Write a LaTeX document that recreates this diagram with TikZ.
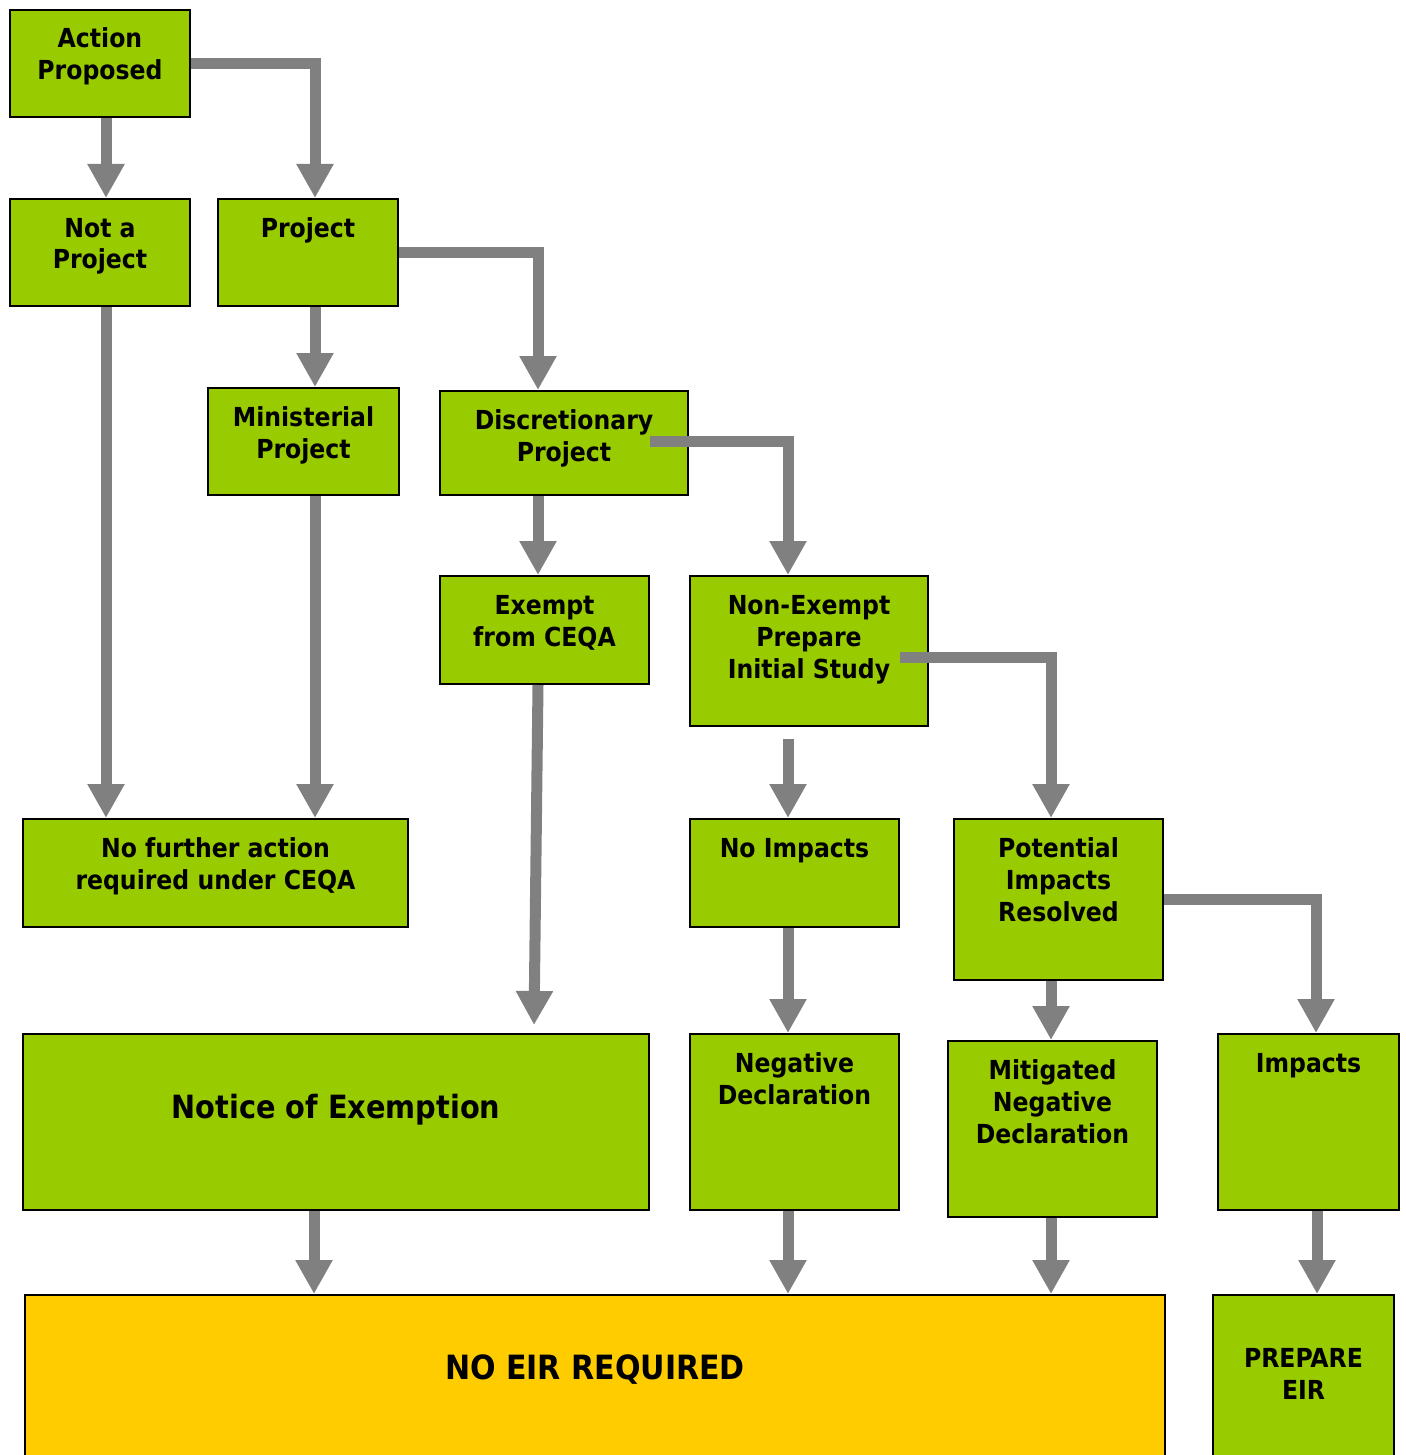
\documentclass[tikz,border=0pt]{standalone}
\usepackage{fontspec}
\newfontfamily\stagefont{DejaVu Sans Condensed}
\usetikzlibrary{arrows.meta}
\definecolor{stagegreen}{HTML}{99CC00}
\definecolor{finalyellow}{HTML}{FFCC00}
\definecolor{flowgray}{HTML}{808080}
% text of a box, held at its top edge
\newcommand{\stagetext}[4][19pt]{\parbox[c][#3][t]{#2}{\centering\rule{0pt}{#1}#4}}

\begin{document}
\begin{tikzpicture}[x=0.5pt,y=-0.5pt,
		stage/.style={draw=black,line width=1pt,fill=stagegreen,anchor=north west,inner sep=0pt,
				font=\stagefont\bfseries\fontsize{13.1}{16}\selectfont},
		big/.style={font=\stagefont\bfseries\fontsize{16}{20}\selectfont},
		flow/.style={draw=flowgray,line width=5.5pt,-{Triangle[width=17.5pt,length=17pt]}}]
		\useasboundingbox (0,0) rectangle (1405,1455);

		\node[stage] (act) at (9,9) {\stagetext{90pt}{53.5pt}{Action\\Proposed}};
		\node[stage] (notproj) at (9,198) {\stagetext{90pt}{53.5pt}{Not a\\Project}};
		\node[stage] (proj) at (217,198) {\stagetext{90pt}{53.5pt}{Project}};
		\node[stage] (minist) at (207,387) {\stagetext{95.5pt}{53.5pt}{Ministerial\\Project}};
		\node[stage] (discr) at (439,390) {\stagetext{124pt}{52pt}{Discretionary\\Project}};
		\node[stage] (exempt) at (439,575) {\stagetext{104.5pt}{54pt}{Exempt\\from CEQA}};
		\node[stage] (nonexempt) at (689,575) {\stagetext{119pt}{75pt}{Non-Exempt\\Prepare\\Initial Study}};
		\node[stage] (nofurther) at (22,818) {\stagetext{192.5pt}{54pt}{No further action\\required under CEQA}};
		\node[stage] (noimp) at (689,818) {\stagetext{104.5pt}{54pt}{No Impacts}};
		\node[stage] (potential) at (953,818) {\stagetext{104.5pt}{80.5pt}{Potential\\Impacts\\Resolved}};
		\node[stage,big] (notice) at (22,1033) {\stagetext[42pt]{313pt}{88pt}{Notice of Exemption}};
		\node[stage] (negdecl) at (689,1033) {\stagetext{104.5pt}{88pt}{Negative\\Declaration}};
		\node[stage] (mitig) at (947,1040) {\stagetext{104.5pt}{88pt}{Mitigated\\Negative\\Declaration}};
		\node[stage] (impacts) at (1217,1033) {\stagetext{90.5pt}{88pt}{Impacts}};
		\node[stage,big,fill=finalyellow,font=\stagefont\bfseries\fontsize{16.7}{20}\selectfont] (noeir) at (24,1294) {\stagetext[42pt]{570pt}{90pt}{NO EIR REQUIRED}};
		\node[stage] (prepare) at (1212,1294) {\stagetext[36pt]{90.5pt}{90pt}{PREPARE\\EIR}};

		% elbows
		\draw[flow] (act.east) -| ([xshift=3.5pt]proj.north);
		\draw[flow] (proj.east) -| ([xshift=-13pt]discr.north);
		\draw[flow] ([xshift=-19.5pt,yshift=1pt]discr.east) -| ([xshift=-10.5pt]nonexempt.north);
		\draw[flow] ([xshift=-14.5pt,yshift=-3pt]nonexempt.east) -| ([xshift=-3.75pt]potential.north);
		\draw[flow] (potential.east) -| ([xshift=3.75pt]impacts.north);

		% straight down
		\foreach \a/\b/\s in {act/notproj/3pt, notproj/nofurther/3pt, proj/minist/3.5pt,
				minist/nofurther/5.75pt, discr/exempt/-13pt, noimp/negdecl/-3.25pt,
				potential/mitig/-3.75pt, notice/noeir/-11pt, negdecl/noeir/-3.25pt,
				mitig/noeir/-0.75pt, impacts/prepare/4.25pt} {
				\draw[flow] ([xshift=\s]\a.south) -- ([xshift=\s]\a.south |- \b.north);
			}
		\draw[flow] ([xshift=-10.5pt,yshift=-6pt]nonexempt.south) -- ([xshift=-10.5pt]nonexempt.south |- noimp.north);
		\draw[flow] ([xshift=-3.25pt]exempt.south) -- ([xshift=-5.25pt,yshift=4pt]exempt.south |- notice.north);
	\end{tikzpicture}
\end{document}
